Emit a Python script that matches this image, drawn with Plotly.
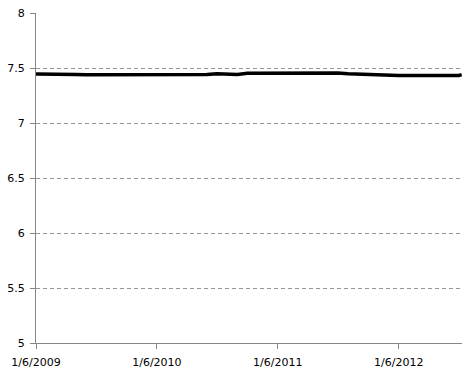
import plotly.graph_objects as go

dates = [
    "2009-01-06", "2009-02-06", "2009-03-06", "2009-04-06", "2009-05-06", "2009-06-06",
    "2009-07-06", "2009-08-06", "2009-09-06", "2009-10-06", "2009-11-06", "2009-12-06",
    "2010-01-06", "2010-02-06", "2010-03-06", "2010-04-06", "2010-05-06", "2010-06-06",
    "2010-07-06", "2010-08-06", "2010-09-06", "2010-10-06", "2010-11-06", "2010-12-06",
    "2011-01-06", "2011-02-06", "2011-03-06", "2011-04-06", "2011-05-06", "2011-06-06",
    "2011-07-06", "2011-08-06", "2011-09-06", "2011-10-06", "2011-11-06", "2011-12-06",
    "2012-01-06", "2012-02-06", "2012-03-06", "2012-04-06", "2012-05-06", "2012-06-06",
    "2012-07-06", "2012-07-14",
]
values = [
    7.445, 7.445, 7.447, 7.440, 7.440, 7.438,
    7.438, 7.440, 7.440, 7.440, 7.440, 7.440,
    7.440, 7.440, 7.440, 7.440, 7.440, 7.440,
    7.447, 7.447, 7.442, 7.452, 7.452, 7.452,
    7.452, 7.455, 7.457, 7.457, 7.457, 7.457,
    7.455, 7.447, 7.443, 7.443, 7.440, 7.432,
    7.432, 7.432, 7.432, 7.438, 7.436, 7.432,
    7.432, 7.440,
]
x_tick_vals = ["2009-01-06", "2010-01-06", "2011-01-06", "2012-01-06"]
x_tick_text = ["1/6/2009", "1/6/2010", "1/6/2011", "1/6/2012"]
y_tick_vals = [5, 5.5, 6, 6.5, 7, 7.5, 8]
y_tick_text = ["5", "5.5", "6", "6.5", "7", "7.5", "8"]

fig = go.Figure()
fig.add_trace(go.Scatter(
    x=dates, y=values, mode="lines",
    line=dict(color="black", width=3.5),
    showlegend=False,
))

fig.update_layout(
    width=470, height=376,
    margin=dict(l=34, r=8, t=7, b=32),
    paper_bgcolor="white", plot_bgcolor="white",
    font=dict(family="DejaVu Sans", size=11, color="black"),
    xaxis=dict(
        type="date",
        range=["2009-01-06", "2012-07-15"],
        tickvals=x_tick_vals, ticktext=x_tick_text,
        showgrid=False, zeroline=False,
        showline=True, linecolor="#868686", linewidth=1,
        ticks="outside", ticklen=5, tickcolor="#868686",
        ticklabelstandoff=4,
    ),
    yaxis=dict(
        range=[5, 8],
        tickvals=y_tick_vals, ticktext=y_tick_text,
        showgrid=True, gridcolor="#969696", griddash="4px,3px", gridwidth=1,
        zeroline=False,
        showline=True, linecolor="#868686", linewidth=1,
        ticks="outside", ticklen=5, tickcolor="#868686",
        ticklabelstandoff=3,
    ),
)

fig.write_html("out.html")
